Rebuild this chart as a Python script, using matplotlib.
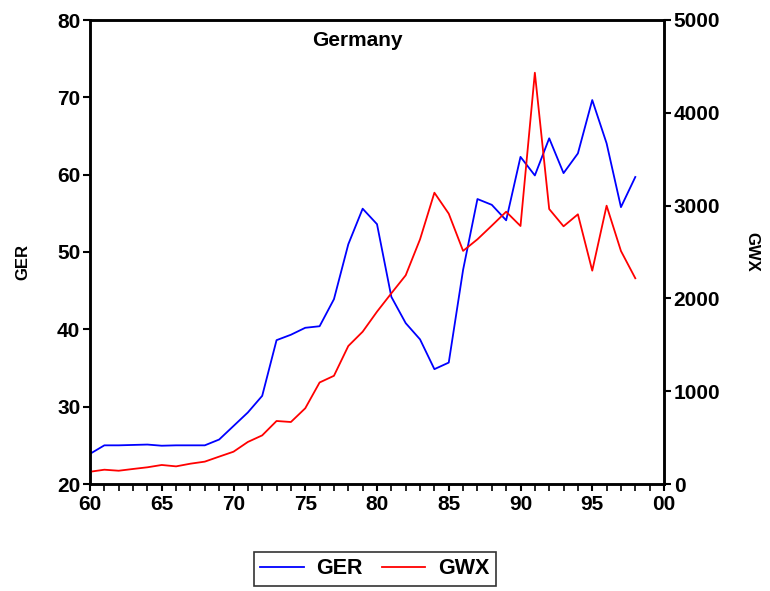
import matplotlib.pyplot as plt
from matplotlib.ticker import MultipleLocator

plt.rcParams['font.family'] = ['Liberation Sans', 'DejaVu Sans']
plt.rcParams['font.weight'] = 'bold'

# dados (1960-1998)
anos = list(range(1960, 1999))
ger = [23.9, 25.0, 25.0, 25.05, 25.1, 24.95, 25.0, 25.0, 25.0, 25.75,
       27.5, 29.25, 31.4, 38.6, 39.3, 40.2, 40.4, 43.9, 51.0, 55.6,
       53.6, 44.2, 40.8, 38.7, 34.85, 35.7, 47.7, 56.85, 56.1, 54.1,
       62.3, 59.9, 64.7, 60.2, 62.75, 69.65, 64.05, 55.8, 59.7]
gwx = [132, 154, 143, 162, 180, 205, 190, 219, 241, 295,
       348, 453, 524, 679, 668, 816, 1094, 1166, 1487, 1641,
       1857, 2055, 2249, 2637, 3139, 2913, 2512, 2637, 2784, 2934,
       2780, 4432, 2963, 2777, 2906, 2299, 2999, 2511, 2217]
xticks = [1960, 1965, 1970, 1975, 1980, 1985, 1990, 1995, 2000]
xlabels = ['60', '65', '70', '75', '80', '85', '90', '95', '00']

fig = plt.figure(figsize=(7.7, 5.91), dpi=100)
ax = fig.add_axes([90 / 770, 1 - 484 / 591, 574 / 770, 464 / 591])
ax2 = ax.twinx()

l1, = ax.plot(anos, ger, color='#0000ff', lw=1.3, label='GER')
l2, = ax2.plot(anos, gwx, color='#ff0000', lw=1.3, label='GWX')

ax.set_xlim(1960, 2000)
ax.set_ylim(20, 80)
ax2.set_ylim(0, 5000)
ax.set_xticks(xticks)
ax.set_xticklabels(xlabels)
ax.xaxis.set_minor_locator(MultipleLocator(1))
ax.set_yticks(range(20, 81, 10))
ax2.set_yticks(range(0, 5001, 1000))

for a in (ax, ax2):
    for s in a.spines.values():
        s.set_linewidth(1.8)
    a.tick_params(labelsize=15, width=1.5, length=5, pad=2)
ax.tick_params(axis='x', which='minor', length=5, width=1.2)
ax.tick_params(axis='x', which='major', length=5, pad=3)

ax.set_ylabel('GER', fontsize=12, fontweight='bold')
ax.yaxis.set_label_coords(-0.104, 0.478)
ax2.set_ylabel('GWX', fontsize=12, fontweight='bold', rotation=270, labelpad=28)

ax.text(0.465, 0.955, 'Germany', transform=ax.transAxes, ha='center',
        va='center', fontsize=15, fontweight='bold')

leg = fig.legend(handles=[l1, l2], loc='center', bbox_to_anchor=(375 / 770, 1 - 569 / 591),
                 ncol=2, fontsize=15.5, frameon=True, fancybox=False,
                 handlelength=2.0, handletextpad=0.6, columnspacing=0.9,
                 borderpad=0.3, borderaxespad=0)
leg.get_frame().set_edgecolor('black')
leg.get_frame().set_linewidth(1.2)

fig.savefig('out.png', dpi=100)
